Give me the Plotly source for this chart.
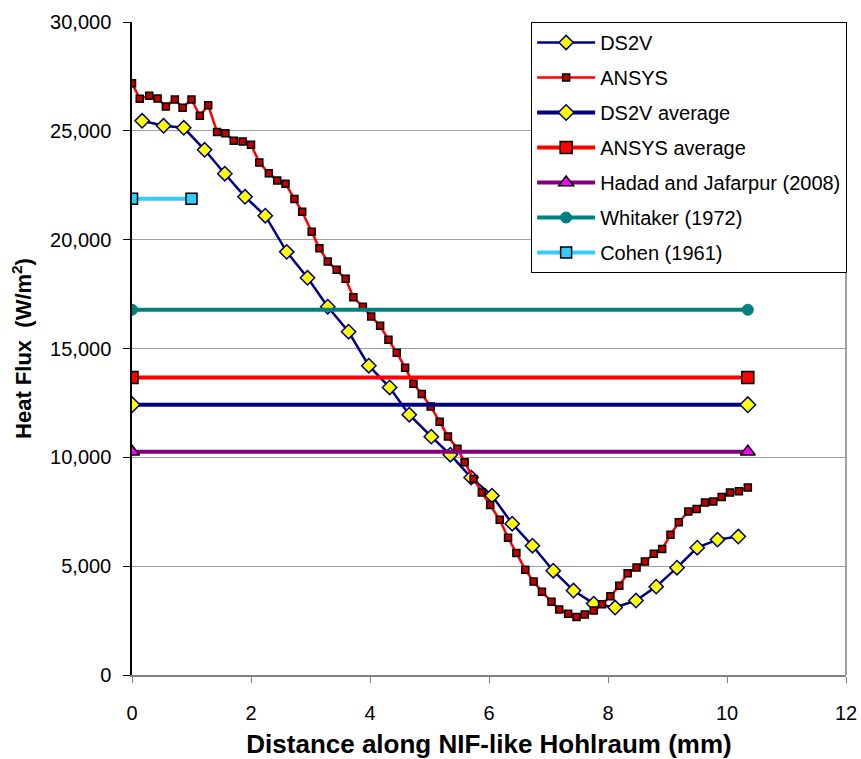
import plotly.graph_objects as go

# ---------------- data ----------------
ds2v_x = [0.17, 0.53, 0.87, 1.22, 1.56, 1.90, 2.24, 2.60, 2.95, 3.29,
          3.64, 3.98, 4.33, 4.66, 5.03, 5.35, 5.70, 6.05, 6.39, 6.73,
          7.08, 7.42, 7.76, 8.12, 8.47, 8.81, 9.16, 9.50, 9.84, 10.19]
ds2v_y = [25460, 25230, 25140, 24130, 23030, 21970, 21100, 19440, 18250, 16920,
          15770, 14210, 13210, 11960, 10950, 10120, 9070, 8240, 6950, 5940,
          4790, 3880, 3280, 3100, 3420, 4060, 4930, 5850, 6220, 6360]

ansys_x = [0.00, 0.13, 0.29, 0.43, 0.57, 0.72, 0.85, 1.00, 1.14, 1.28,
           1.43, 1.57, 1.71, 1.86, 2.00, 2.14, 2.30, 2.44, 2.58, 2.73,
           2.86, 3.02, 3.15, 3.29, 3.44, 3.59, 3.72, 3.88, 4.02, 4.17,
           4.31, 4.45, 4.59, 4.73, 4.87, 5.02, 5.17, 5.31, 5.47, 5.59,
           5.74, 5.88, 6.02, 6.18, 6.32, 6.46, 6.61, 6.75, 6.89, 7.05,
           7.18, 7.33, 7.47, 7.61, 7.76, 7.90, 8.04, 8.19, 8.33, 8.48,
           8.62, 8.77, 8.91, 9.05, 9.19, 9.35, 9.49, 9.63, 9.77, 9.91,
           10.05, 10.20, 10.35]
ansys_y = [27190, 26470, 26610, 26480, 26120, 26440, 26060, 26440, 25690, 26180,
           24950, 24890, 24550, 24510, 24360, 23550, 23050, 22720, 22570, 21870,
           21280, 20360, 19600, 19000, 18620, 18200, 17350, 16920, 16470, 16050,
           15400, 14810, 14120, 13380, 12910, 12330, 11640, 10960, 10400, 9770,
           9010, 8390, 7810, 7130, 6310, 5610, 4840, 4290, 3830, 3360,
           3010, 2810, 2670, 2780, 2960, 3250, 3620, 4100, 4670, 4940,
           5210, 5570, 5790, 6440, 7020, 7510, 7630, 7920, 7970, 8180,
           8390, 8440, 8610]

avg_x = [0.0, 10.35]
ds2v_avg_y = [12420, 12420]
ansys_avg_y = [13670, 13670]
hadad_y = [10260, 10260]
whitaker_y = [16780, 16780]
cohen_x = [0.0, 1.0]
cohen_y = [21880, 21880]

x_ticks = [0, 2, 4, 6, 8, 10, 12]
y_ticks = [0, 5000, 10000, 15000, 20000, 25000, 30000]

FONT = "Liberation Sans, Arial, sans-serif"

fig = go.Figure()

fig.add_trace(go.Scatter(
    x=ds2v_x, y=ds2v_y, name="DS2V", mode="lines+markers", legendgroup="a",
    line=dict(color="#000080", width=2.5),
    marker=dict(symbol="diamond", size=11, color="#FFFF00",
                line=dict(color="#000080", width=1.5))))
fig.add_trace(go.Scatter(
    x=ansys_x, y=ansys_y, name="ANSYS", mode="lines+markers", legendgroup="b",
    line=dict(color="#FF0000", width=2.5),
    marker=dict(symbol="square", size=7, color="#C00000",
                line=dict(color="#000000", width=1.5))))
fig.add_trace(go.Scatter(
    x=avg_x, y=ds2v_avg_y, name="DS2V average", mode="lines+markers", legendgroup="c",
    line=dict(color="#000080", width=4),
    marker=dict(symbol="diamond", size=12, color="#FFFF00",
                line=dict(color="#000080", width=1.5))))
fig.add_trace(go.Scatter(
    x=avg_x, y=ansys_avg_y, name="ANSYS average", mode="lines+markers", legendgroup="d",
    line=dict(color="#FF0000", width=4),
    marker=dict(symbol="square", size=12, color="#FF0000",
                line=dict(color="#000000", width=1.5))))
fig.add_trace(go.Scatter(
    x=avg_x, y=hadad_y, name="Hadad and Jafarpur (2008)", mode="lines+markers", legendgroup="e",
    line=dict(color="#800080", width=4),
    marker=dict(symbol="triangle-up", size=13, color="#FF00FF",
                line=dict(color="#000000", width=1.5))))
fig.add_trace(go.Scatter(
    x=avg_x, y=whitaker_y, name="Whitaker (1972)", mode="lines+markers", legendgroup="f",
    line=dict(color="#008080", width=4),
    marker=dict(symbol="circle", size=11, color="#008080",
                line=dict(color="#008080", width=1))))
fig.add_trace(go.Scatter(
    x=cohen_x, y=cohen_y, name="Cohen (1961)", mode="lines+markers", legendgroup="g",
    line=dict(color="#33CCFF", width=4),
    marker=dict(symbol="square", size=11, color="#33CCFF",
                line=dict(color="#000000", width=1.5))))

# right border of plot area
fig.add_shape(type="line", xref="x domain", yref="y domain",
              x0=1, x1=1, y0=0, y1=1, line=dict(color="#808080", width=1.5))

fig.update_layout(
    width=861, height=759,
    margin=dict(l=132, r=15, t=22, b=84, pad=0),
    paper_bgcolor="white", plot_bgcolor="white",
    font=dict(family=FONT, size=20, color="#000000"),
    showlegend=True,
    legend=dict(x=0.559, y=1.0, xanchor="left", yanchor="top",
                bgcolor="white", bordercolor="#000000", borderwidth=1,
                font=dict(family=FONT, size=20, color="#000000"),
                tracegroupgap=6, itemwidth=58, traceorder="grouped"),
    xaxis=dict(range=[0, 12], tickvals=x_ticks, ticks="outside", ticklen=6,
               tickcolor="#808080", showline=True, linecolor="#808080", linewidth=1.5,
               showgrid=False, zeroline=False, ticklabelstandoff=13, automargin=False,
               tickfont=dict(family=FONT, size=20),
               title=dict(text="<b>Distance along NIF-like Hohlraum (mm)</b>",
                          font=dict(family=FONT, size=26), standoff=13)),
    yaxis=dict(range=[0, 30000], tickvals=y_ticks, tickformat=",", ticks="outside",
               ticklen=7, tickcolor="#000000", showline=True, linecolor="#000000",
               linewidth=1.5, showgrid=True, gridcolor="#A0A0A0", gridwidth=1,
               zeroline=False, ticklabelstandoff=8, automargin=False,
               tickfont=dict(family=FONT, size=20),
               title=dict(text="<b>Heat Flux  (W/m<sup>2</sup>)</b>",
                          font=dict(family=FONT, size=22), standoff=12)),
)

fig.write_html("out.html")
